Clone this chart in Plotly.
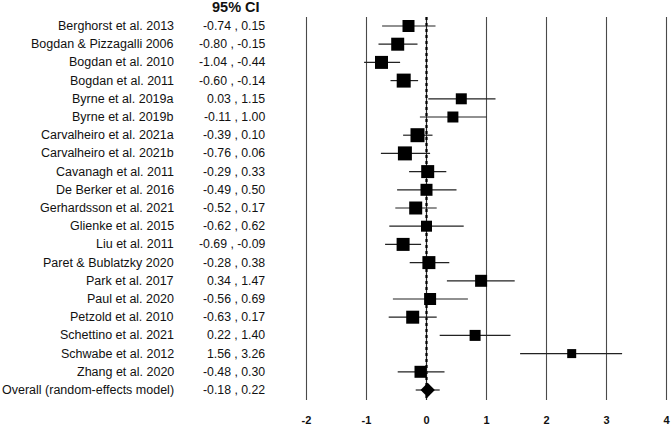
import plotly.graph_objects as go

studies = ["Berghorst et al. 2013", "Bogdan & Pizzagalli 2006", "Bogdan et al. 2010", "Bogdan et al. 2011",
           "Byrne et al. 2019a", "Byrne et al. 2019b", "Carvalheiro et al. 2021a", "Carvalheiro et al. 2021b",
           "Cavanagh et al. 2011", "De Berker et al. 2016", "Gerhardsson et al. 2021", "Glienke et al. 2015",
           "Liu et al. 2011", "Paret & Bublatzky 2020", "Park et al. 2017", "Paul et al. 2020",
           "Petzold et al. 2010", "Schettino et al. 2021", "Schwabe et al. 2012", "Zhang et al. 2020"]
ci_low = [-0.74, -0.80, -1.04, -0.60, 0.03, -0.11, -0.39, -0.76, -0.29, -0.49, -0.52, -0.62, -0.69, -0.28,
          0.34, -0.56, -0.63, 0.22, 1.56, -0.48]
ci_high = [0.15, -0.15, -0.44, -0.14, 1.15, 1.00, 0.10, 0.06, 0.33, 0.50, 0.17, 0.62, -0.09, 0.38,
           1.47, 0.69, 0.17, 1.40, 3.26, 0.30]
estimate = [-0.30, -0.48, -0.75, -0.38, 0.58, 0.44, -0.15, -0.36, 0.02, 0.00, -0.18, 0.00, -0.39, 0.04,
            0.91, 0.06, -0.23, 0.81, 2.42, -0.10]
weight = [12, 13, 13, 14, 11, 11, 14, 14, 13, 12, 13, 11, 13, 13, 12, 12, 13, 11, 9, 12]

overall_label = "Overall (random-effects model)"
overall_low, overall_high, overall_est = -0.18, 0.22, 0.02

x_ticks = [-2, -1, 0, 1, 2, 3, 4]

W, H = 672, 427
PLOT_B = 19
ROW_PX = 18.2
ROW0_PX = 26
plot_h = H - PLOT_B
y_top = -ROW0_PX / ROW_PX
y_bot = y_top + plot_h / ROW_PX
PX_PER_UNIT = 60.0
x0 = -2 - 306.5 / PX_PER_UNIT
x1 = x0 + W / PX_PER_UNIT

rows = list(range(len(studies)))
overall_row = len(studies)

fig = go.Figure()

# grid lines
grid_top = -0.5
grid_bot = overall_row + 0.55
for t in x_ticks:
    if t == 0:
        fig.add_shape(type="line", x0=t, x1=t, y0=grid_top, y1=grid_bot, xref="x", yref="y",
                      line=dict(color="#222222", width=1.2), layer="below")
        fig.add_shape(type="line", x0=t, x1=t, y0=grid_top, y1=grid_bot, xref="x", yref="y",
                      line=dict(color="#000000", width=2.2, dash="dot"), layer="below")
    else:
        fig.add_shape(type="line", x0=t, x1=t, y0=grid_top, y1=grid_bot, xref="x", yref="y",
                      line=dict(color="#4a4a4a", width=1.1), layer="below")

fig.add_trace(go.Scatter(
    x=estimate, y=rows, mode="markers",
    marker=dict(symbol="square", size=weight, color="black", opacity=1, line=dict(width=0)),
    error_x=dict(type="data", symmetric=False,
                 array=[h - e for h, e in zip(ci_high, estimate)],
                 arrayminus=[e - l for l, e in zip(ci_low, estimate)],
                 width=0, thickness=1.2, color="#222222"),
    showlegend=False, hoverinfo="skip"))

fig.add_trace(go.Scatter(
    x=[overall_est], y=[overall_row], mode="markers",
    marker=dict(symbol="diamond", size=11, color="black", opacity=1, line=dict(width=0)),
    error_x=dict(type="data", symmetric=False,
                 array=[overall_high - overall_est], arrayminus=[overall_est - overall_low],
                 width=0, thickness=1.2, color="#222222"),
    showlegend=False, hoverinfo="skip"))

fam = "Liberation Sans, Arial, sans-serif"
label_font = dict(family=fam, size=12.5, color="#111111")
ci_font = dict(family=fam, size=12.3, color="#111111")
labels = studies + [overall_label]
cis = [f"{l:.2f} , {h:.2f}" for l, h in zip(ci_low, ci_high)] + [f"{overall_low:.2f} , {overall_high:.2f}"]
for i, (lab, ci) in enumerate(zip(labels, cis)):
    fig.add_annotation(x=176 / W, y=i, xref="paper", yref="y", text=lab, showarrow=False,
                       xanchor="right", yanchor="middle", font=label_font)
    fig.add_annotation(x=267 / W, y=i, xref="paper", yref="y", text=ci, showarrow=False,
                       xanchor="right", yanchor="middle", font=ci_font)
fig.add_annotation(x=236 / W, y=-1.05, xref="paper", yref="y", text="<b>95% CI</b>", showarrow=False,
                   xanchor="center", yanchor="middle", font=dict(family=fam, size=14.5, color="#111111"))

fig.update_layout(
    width=W, height=H, margin=dict(l=0, r=0, t=0, b=PLOT_B),
    paper_bgcolor="white", plot_bgcolor="white",
    xaxis=dict(range=[x0, x1], tickmode="array", tickvals=x_ticks, ticktext=[f"<b>{t}</b>" for t in x_ticks],
               showgrid=False, zeroline=False, showline=False, ticks="", ticklabelstandoff=4,
               tickfont=dict(family=fam, size=11, color="#111111")),
    yaxis=dict(range=[y_bot, y_top], showgrid=False, zeroline=False, showline=False,
               showticklabels=False, ticks=""),
)

fig.write_html("out.html", config={"displayModeBar": False},
               post_script="document.body.style.margin='0px';document.body.style.overflow='hidden';")
